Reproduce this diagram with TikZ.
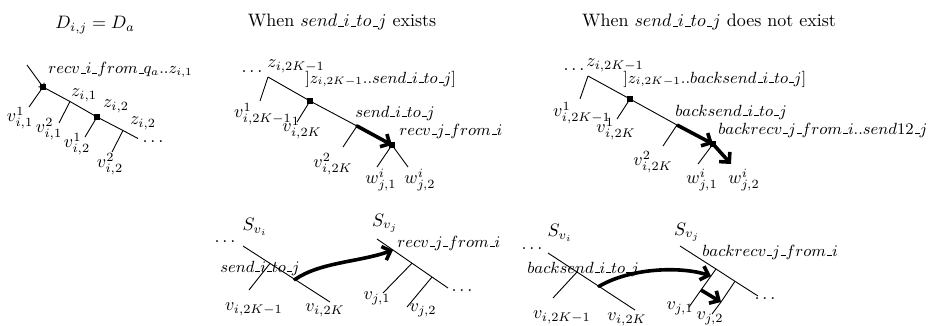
\documentclass[tikz,border=0pt]{standalone}
\usetikzlibrary{arrows.meta}
\newcommand{\usc}{\kern.06em\vbox{\hrule width.3em}}
\begin{document}
\begin{tikzpicture}[x=0.5556pt,y=-0.5556pt,
  ln/.style={line width=0.5pt},
  sq/.style={rectangle,fill=black,minimum size=3.8pt,inner sep=0pt},
  dotnode/.style={circle,fill=black,minimum size=2pt,inner sep=0pt},
  ttl/.style={inner sep=0pt},
  lbl/.style={inner sep=0pt},
  lbll/.style={inner sep=0pt,anchor=west,font=\fontsize{9}{11}\selectfont},
  bigarrow/.style={line width=2pt,-{Straight Barb[length=4pt,width=8pt]}},
  smallarrow/.style={line width=0.5pt,-{Straight Barb[length=1.2pt,width=4pt]}}]
\path[use as bounding box] (0,0) rectangle (929,325);

% ---------------- Panel 1 ----------------
\node[ttl] (t1) at (95,25) {$D_{i,j} = D_a$};
\coordinate (a0) at (27,65);
\node[sq] (a1) at (43,87) {};
\coordinate (a3) at (70,101.5);
\node[sq] (a2) at (97,117) {};
\coordinate (a4) at (123,130.5);
\coordinate (aend) at (138,138.5);
\coordinate (a1b) at (29,107);
\coordinate (a3b) at (59,123);
\coordinate (a2b) at (85,137);
\coordinate (a4b) at (112,152);
\draw[smallarrow] (a0) -- (a1.center);
\draw[ln] (a1.center) -- (a3) -- (a2.center) -- (a4) -- (aend);
\draw[ln] (a1.center) -- (a1b);
\draw[ln] (a3) -- (a3b);
\draw[ln] (a2.center) -- (a2b);
\draw[ln] (a4) -- (a4b);
\node[lbll] (l1) at (48,70) {$recv\usc i\usc from\usc q_a..z_{i,1}$};
\node[lbl] (l2) at (84,95) {$z_{i,1}$};
\node[lbl] (l3) at (116,106) {$z_{i,2}$};
\node[lbl] (l4) at (143,123) {$z_{i,2}$};
\node[lbl] (l5) at (153,142) {$\dots$};
\node[lbl] (l6) at (20,118) {$v^1_{i,1}$};
\node[lbl] (l7) at (49,129) {$v^2_{i,1}$};
\node[lbl] (l8) at (77,144) {$v^1_{i,2}$};
\node[lbl] (l9) at (110,164) {$v^2_{i,2}$};

% ---------------- Panel 2 ----------------
\node[ttl] (t2) at (342,22) {When $send\usc i\usc to\usc j$ exists};
\coordinate (b0) at (268,77);
\node[sq] (b1) at (310,101) {};
\node[dotnode] (b2) at (357,126) {};
\node[sq] (b3) at (392,145) {};
\coordinate (b0b) at (260,101);
\coordinate (b1b) at (297,122);
\coordinate (b2b) at (343,147);
\coordinate (b3l) at (377,167);
\coordinate (b3r) at (408,167);
\draw[ln] (b0) -- (b1.center) -- (b2.center);
\draw[bigarrow] (b2.center) -- (b3.center);
\draw[ln] (b0) -- (b0b);
\draw[ln] (b1.center) -- (b1b);
\draw[ln] (b2.center) -- (b2b);
\draw[ln] (b3.center) -- (b3l);
\draw[ln] (b3.center) -- (b3r);
\node[lbl] (m1) at (252,72) {$\dots$};
\node[lbl] (m2) at (296,66) {$z_{i,2K-1}$};
\node[lbll] (m3) at (305,79) {$]z_{i,2K-1}..send\usc i\usc to\usc j]$};
\node[lbl] (m4) at (263,114) {$v^1_{i,2K-1}$};
\node[lbl] (m5) at (302,128) {$v^1_{i,2K}$};
\node[lbl] (m6) at (333,164) {$v^2_{i,2K}$};
\node[lbll] (m7) at (355,113) {$send\usc i\usc to\usc j$};
\node[lbll] (m8) at (399,131) {$recv\usc j\usc from\usc i$};
\node[lbl] (m9) at (381,180) {$w^i_{j,1}$};
\node[lbl] (m10) at (420,180) {$w^i_{j,2}$};

% ---------------- Panel 3 ----------------
\node[ttl] (t3) at (709,22) {When $send\usc i\usc to\usc j$ does not exist};
\coordinate (c0) at (588,76);
\node[sq] (c1) at (630,99) {};
\coordinate (c2) at (677,125);
\node[sq] (c3) at (713,144) {};
\coordinate (c4) at (731,164);
\coordinate (c0b) at (580,99);
\coordinate (c1b) at (617,119);
\coordinate (c2b) at (663,146);
\coordinate (c3b) at (698,164);
\draw[ln] (c0) -- (c1.center) -- (c2);
\draw[bigarrow] (c2) -- (c3.center);
\draw[bigarrow] (c3.center) -- (c4);
\draw[ln] (c0) -- (c0b);
\draw[ln] (c1.center) -- (c1b);
\draw[ln] (c2) -- (c2b);
\draw[ln] (c3.center) -- (c3b);
\node[lbl] (n1) at (574,70) {$\dots$};
\node[lbl] (n2) at (615,65) {$z_{i,2K-1}$};
\node[lbll] (n3) at (623,79) {$]z_{i,2K-1}..backsend\usc i\usc to\usc j]$};
\node[lbl] (n4) at (582,113) {$v^1_{i,2K-1}$};
\node[lbl] (n5) at (616,129) {$v^1_{i,2K}$};
\node[lbl] (n6) at (653,162) {$v^2_{i,2K}$};
\node[lbll] (n7) at (675,112) {$backsend\usc i\usc to\usc j$};
\node[lbll] (n8) at (718,130) {$backrecv\usc j\usc from\usc i..send12\usc j$};
\node[lbl] (n9) at (702,180) {$w^i_{j,1}$};
\node[lbl] (n10) at (744,180) {$w^i_{j,2}$};

% ---------------- Panel 4 ----------------
\coordinate (d0) at (243,246);
\coordinate (d1) at (330,302);
\coordinate (d3) at (270,263.4);
\coordinate (d3b) at (249,290);
\node[dotnode] (d2) at (295,279.5) {};
\draw[ln] (d0) -- (d3) -- (d2.center) -- (d1);
\draw[ln] (d3) -- (d3b);
\node[lbl] (p1) at (255,227) {$S_{v_i}$};
\node[lbl] (p2) at (225,242) {$\dots$};
\node[lbll] (p3) at (220,268) {$send\usc i\usc to\usc j$};
\node[lbl] (p4) at (254,309) {$v_{i,2K-1}$};
\node[lbl] (p5) at (325,310) {$v_{i,2K}$};
\coordinate (e0) at (377,239);
\coordinate (e2) at (393,250);
\coordinate (e3) at (412,263.2);
\coordinate (e4) at (432,277);
\coordinate (e1) at (448,288);
\coordinate (e3b) at (383,293);
\coordinate (e4b) at (407,307);
\draw[ln] (e0) -- (e2) -- (e3) -- (e4) -- (e1);
\draw[ln] (e3) -- (e3b);
\draw[ln] (e4) -- (e4b);
\draw[bigarrow] (d2.center) .. controls (320,262) and (360,262) .. (e2);
\node[lbl] (p6) at (385,223) {$S_{v_j}$};
\node[lbll] (p7) at (397,243) {$recv\usc j\usc from\usc i$};
\node[lbl] (p8) at (377,298) {$v_{j,1}$};
\node[lbl] (p9) at (423,310) {$v_{j,2}$};
\node[lbl] (p10) at (462,291) {$\dots$};

% ---------------- Panel 5 ----------------
\coordinate (f0) at (548,253);
\coordinate (f1) at (635,310);
\coordinate (f3) at (577,272);
\coordinate (f3b) at (553,298);
\node[dotnode] (f2) at (599,286.4) {};
\draw[ln] (f0) -- (f3) -- (f2.center) -- (f1);
\draw[ln] (f3) -- (f3b);
\node[lbl] (q1) at (560,233) {$S_{v_i}$};
\node[lbl] (q2) at (532,249) {$\dots$};
\node[lbll] (q3) at (527,269) {$backsend\usc i\usc to\usc j$};
\node[lbl] (q4) at (562,317) {$v_{i,2K-1}$};
\node[lbl] (q5) at (627,319) {$v_{i,2K}$};
\coordinate (g0) at (680,246);
\coordinate (g3) at (716,269);
\coordinate (g4) at (735,281.3);
\coordinate (g1) at (758,296);
\coordinate (g3b) at (689,307);
\coordinate (g4b) at (712,314);
\coordinate (g5) at (711,276);
\coordinate (g6) at (701,290);
\coordinate (g7) at (721,302);
\draw[ln] (g0) -- (g3) -- (g4) -- (g1);
\draw[ln] (g3) -- (g5) -- (g6) -- (g3b);
\draw[ln] (g4) -- (g7) -- (g4b);
\draw[bigarrow] (f2.center) .. controls (630,268) and (680,266) .. (g5);
\draw[bigarrow] (g6) -- (g7);
\node[lbl] (q6) at (687,232) {$S_{v_j}$};
\node[lbll] (q7) at (702,252) {$backrecv\usc j\usc from\usc i$};
\node[lbl] (q8) at (680,308) {$v_{j,1}$};
\node[lbl] (q9) at (710,318) {$v_{j,2}$};
\node[lbl] (q10) at (765,299) {$\dots$};
\end{tikzpicture}
\end{document}
